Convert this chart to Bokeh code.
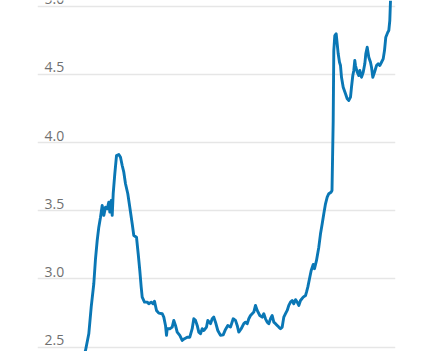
from bokeh.plotting import figure
from bokeh.models import Range1d, FixedTicker, ColumnDataSource
from bokeh.core.properties import value
from bokeh.embed import file_html
from bokeh.resources import INLINE

# time index (arbitrary units) and series values
t = [45, 48, 51.3, 53.7, 56.3, 58, 59.7, 61.3, 63, 64.7, 66.3, 68, 69.7, 71.3, 72.3, 73.7, 74.7,
     75.7, 77.3, 79, 81.3, 83, 84.7, 86.3, 88, 90.3, 92.3, 94.7, 96.3, 99, 100.7, 102.3, 103.7,
     104.7, 107, 109.7, 111.3, 113.7, 115.7, 117, 119, 121.3, 124.7, 126.3, 128, 129, 129.7,
     132.3, 134.7, 136.3, 138, 139.7, 142.3, 144.7, 147, 149.7, 152.3, 154.7, 156.3, 158, 159.7,
     161.3, 163, 164.7, 166.3, 169, 170.3, 173, 174.7, 176.3, 178, 180.3, 183, 185.7, 188, 190.3,
     193, 195.7, 198, 199.7, 201.3, 203.7, 206.3, 208, 209.7, 211.3, 213, 214.7, 216.3, 218, 219.7,
     222.3, 224.7, 226.3, 228, 229.7, 231.3, 233, 234.7, 236.3, 238, 239.7, 241.3, 243, 244.7,
     246.3, 248, 249.7, 251.3, 253, 254.7, 256.3, 258, 259.7, 261.3, 263, 265.7, 268, 269, 270.3,
     272.3, 273.7, 275.7, 277, 279, 281.3, 283, 284.7, 286.3, 288, 289.7, 291.3, 293.5, 294.5,
     295.7, 296.3, 297.3, 298.7, 299.7, 300.7, 302, 303, 304, 305.7, 308, 309.7, 311.3, 313, 314,
     315.3, 316.3, 317.3, 318, 319.7, 321.3, 322.3, 324, 325.7, 327.3, 328.3, 329.7, 331.3, 333,
     334, 335.3, 337, 339, 340.7, 342.3, 344, 345.7, 347, 348.3, 350.3, 351.3, 352.3, 353]
rate = [2.40, 2.476, 2.598, 2.793, 2.965, 3.148, 3.282, 3.380, 3.453, 3.539, 3.466, 3.526,
        3.515, 3.563, 3.490, 3.575, 3.466, 3.625, 3.771, 3.905, 3.913, 3.893, 3.832, 3.783,
        3.698, 3.625, 3.526, 3.405, 3.319, 3.306, 3.185, 3.062, 2.940, 2.867, 2.830, 2.830,
        2.818, 2.830, 2.818, 2.837, 2.769, 2.749, 2.745, 2.720, 2.659, 2.586, 2.635, 2.635,
        2.647, 2.696, 2.659, 2.610, 2.586, 2.549, 2.562, 2.573, 2.573, 2.635, 2.708, 2.696,
        2.659, 2.610, 2.598, 2.635, 2.622, 2.647, 2.696, 2.672, 2.708, 2.720, 2.683, 2.622,
        2.586, 2.590, 2.630, 2.659, 2.647, 2.708, 2.696, 2.659, 2.610, 2.635, 2.672, 2.683,
        2.672, 2.708, 2.732, 2.745, 2.757, 2.806, 2.769, 2.732, 2.720, 2.745, 2.708, 2.683,
        2.672, 2.708, 2.732, 2.683, 2.672, 2.659, 2.647, 2.635, 2.647, 2.720, 2.745, 2.769,
        2.806, 2.830, 2.842, 2.818, 2.848, 2.830, 2.806, 2.842, 2.867, 2.879, 2.903, 2.940,
        3.013, 3.062, 3.106, 3.075, 3.136, 3.233, 3.331, 3.405, 3.478, 3.551, 3.600, 3.625,
        3.636, 3.649, 4.162, 4.675, 4.785, 4.798, 4.724, 4.651, 4.589, 4.565, 4.479, 4.406,
        4.358, 4.321, 4.309, 4.333, 4.406, 4.492, 4.529, 4.602, 4.565, 4.516, 4.492, 4.529,
        4.479, 4.516, 4.578, 4.651, 4.699, 4.626, 4.589, 4.553, 4.479, 4.516, 4.565, 4.578,
        4.565, 4.589, 4.614, 4.675, 4.773, 4.809, 4.822, 4.895, 5.042, 5.115]

y_ticks = [2.5, 3.0, 3.5, 4.0, 4.5, 5.0]
y_labels = ["2.5", "3.0", "3.5", "4.0", "4.5", "5.0"]

p = figure(width=422, height=351, output_backend="svg", toolbar_location=None,
           x_range=Range1d(0, 358), y_range=Range1d(2.468, 5.042),
           x_axis_location=None, y_axis_location=None,
           min_border_left=37, min_border_right=27, min_border_top=0, min_border_bottom=0)
p.outline_line_color = None
p.xgrid.visible = False
p.ygrid.ticker = FixedTicker(ticks=y_ticks)
p.ygrid.grid_line_color = "#e6e6e6"
p.ygrid.grid_line_width = 1.5

lab = ColumnDataSource(dict(x=[7] * len(y_ticks), y=y_ticks, text=y_labels))
p.text(x="x", y="y", text="text", source=lab, text_font=value("Open Sans"),
       text_font_size="14px", text_color="#707070", text_baseline="bottom",
       text_align="left", y_offset=-2)

p.line(t, rate, line_color="#0a77b5", line_width=2.9, line_join="round")

open("out.html", "w").write(file_html(p, INLINE))
